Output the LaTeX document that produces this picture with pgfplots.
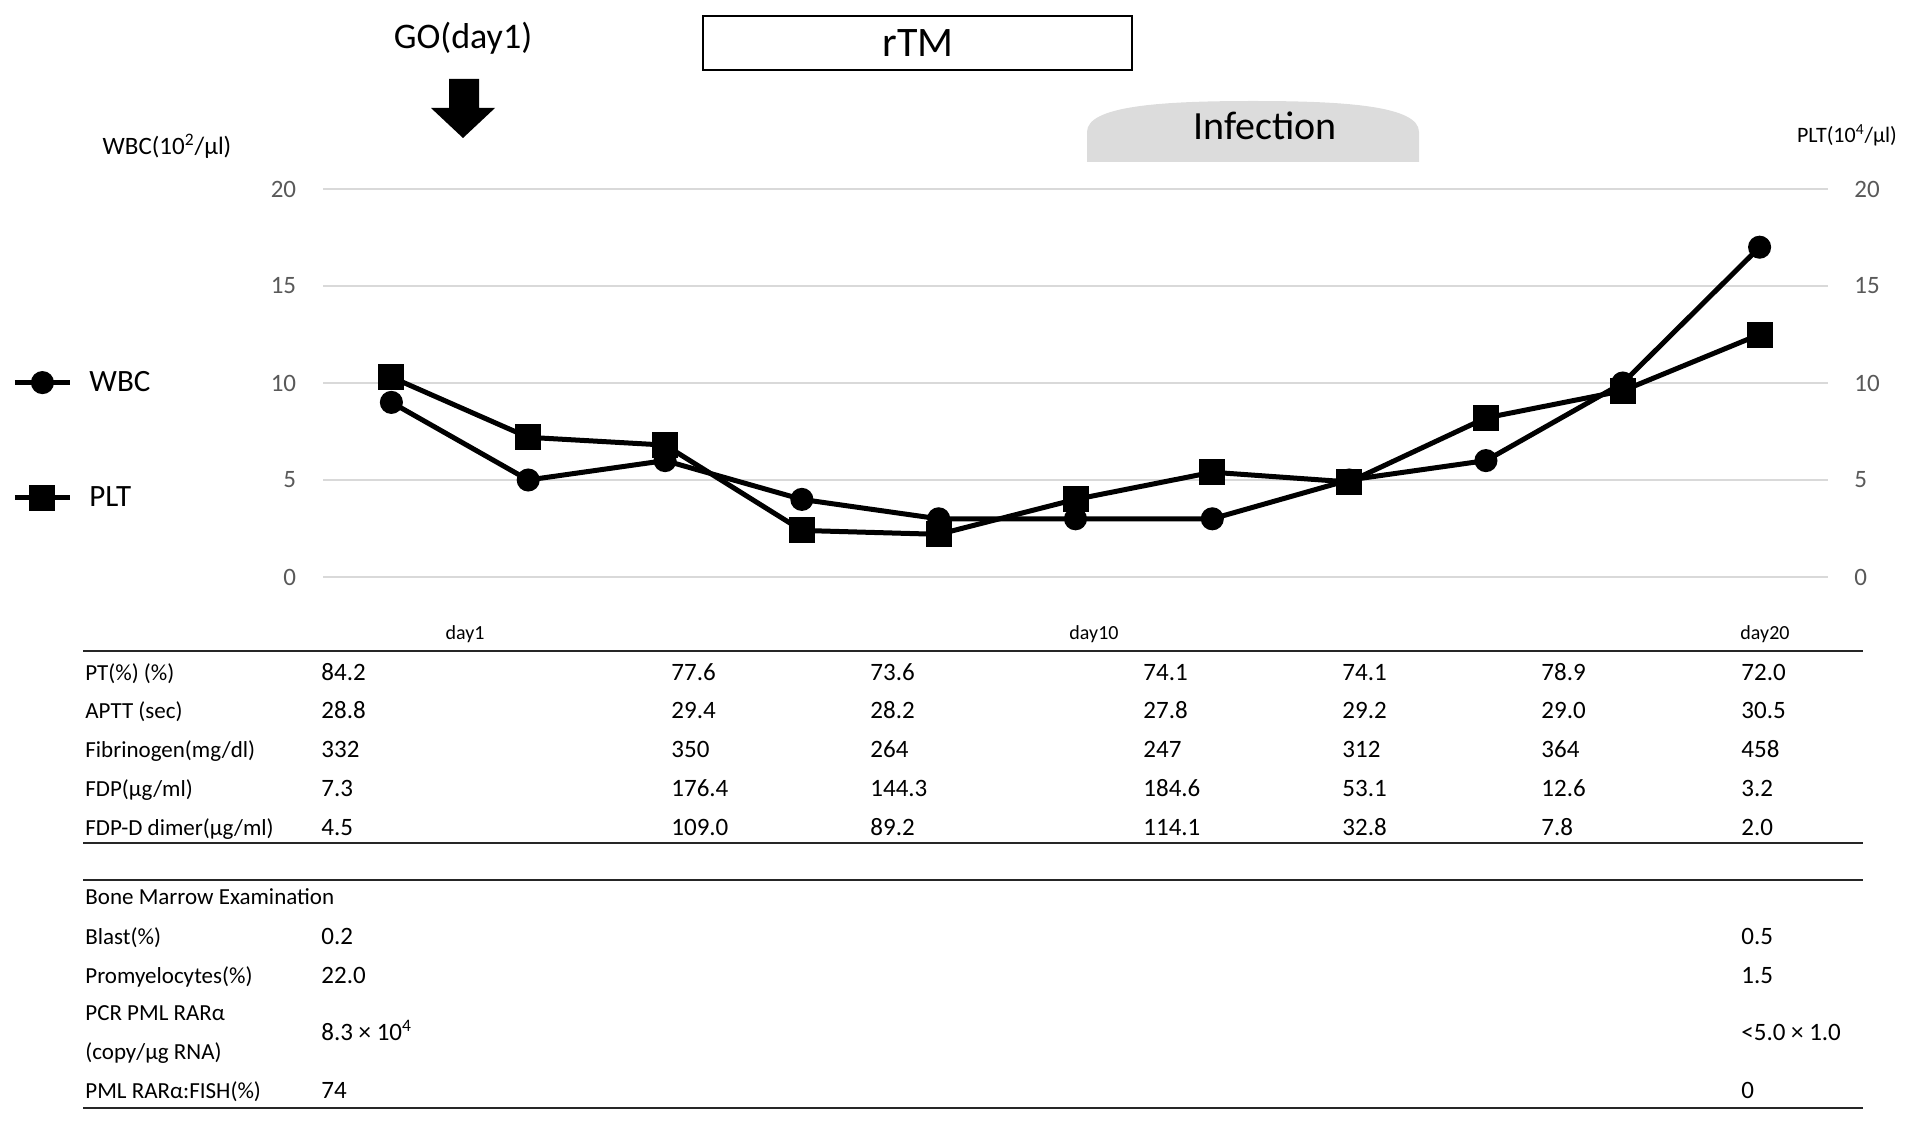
\documentclass[border=0pt]{standalone}
\usepackage{fontspec}
\setmainfont{Carlito}
\usepackage{pgfplots}
\pgfplotsset{compat=1.18}
\definecolor{tickgray}{HTML}{595959}
\definecolor{gridgray}{HTML}{D9D9D9}
\definecolor{infgray}{HTML}{DCDCDC}
\newcommand\labf{\fontsize{11.5}{14}\selectfont}
\newcommand\valf{\fontsize{12.5}{15}\selectfont}
\newcommand\lab[2]{\node[anchor=base west,inner sep=0pt,font=\labf] at (85,#1) {#2};}
\newcommand\val[3]{\node[anchor=base west,inner sep=0pt,font=\valf] at (#1,#2) {#3};}
\begin{document}
\begin{tikzpicture}[x=0.5pt,y=0.5pt]
% WBC (left axis)
\begin{axis}[
  at={(161.5pt,272pt)}, anchor=south west, scale only axis,
  width=752.5pt, height=194pt,
  xmin=-0.5, xmax=10.5, ymin=0, ymax=20,
  xtick=\empty, ytick={0,5,10,15,20},
  axis line style={draw=none}, major tick length=0pt,
  ymajorgrids, grid style={gridgray, line width=1pt},
  /pgf/number format/assume math mode=true,
  yticklabel style={font=\fontsize{12.5}{15}\selectfont, text=tickgray, inner sep=0pt, anchor=east, xshift=-13.25pt},
  clip=false,
]
\addplot[black, line width=2.5pt, mark=*, mark size=4.5pt, mark options={solid}]
  coordinates {(0,9)(1,5)(2,6)(3,4)(4,3)(5,3)(6,3)(7,5)(8,6)(9,10)(10,17)};
\end{axis}
% PLT (right axis)
\begin{axis}[
  at={(161.5pt,272pt)}, anchor=south west, scale only axis,
  width=752.5pt, height=194pt,
  xmin=-0.5, xmax=10.5, ymin=0, ymax=20,
  xtick=\empty, ytick={0,5,10,15,20},
  yticklabel pos=right,
  axis line style={draw=none}, major tick length=0pt,
  /pgf/number format/assume math mode=true,
  yticklabel style={font=\fontsize{12.5}{15}\selectfont, text=tickgray, inner sep=0pt, anchor=west, xshift=13pt},
  clip=false,
  legend cell align=left,
  legend style={at={(-0.2066,0.353)}, anchor=west, draw=none, fill=none,
    font=\fontsize{15.5}{18}\selectfont, row sep=46pt, column sep=8.5pt,
    inner sep=0pt, nodes={inner sep=0pt}},
  legend image code/.code={\draw[mark repeat=2,mark phase=2,#1] plot coordinates {(0pt,0pt) (13.75pt,0pt) (27.5pt,0pt)};},
]
\addlegendimage{black, line width=2.5pt, mark=*, mark size=4.5pt}
\addlegendentry{WBC}
\addplot[black, line width=2.5pt, mark=square*, mark size=5.25pt, mark options={solid}]
  coordinates {(0,10.3)(1,7.2)(2,6.8)(3,2.4)(4,2.2)(5,4.0)(6,5.4)(7,4.9)(8,8.2)(9,9.6)(10,12.5)};
\addlegendentry{PLT}
\end{axis}
\begin{scope}[shift={(0,1121)}, yscale=-1]
  % annotations
  \node[font=\fontsize{18}{21}\selectfont, inner sep=0pt] at (463,38) {GO(day1)};
  \fill[black] (449,79) -- (479,79) -- (479,108) -- (495,108) -- (463,138) -- (431,108) -- (449,108) -- cycle;
  \draw[line width=1.2pt] (703,16) rectangle (1132,70);
  \node[font=\fontsize{21}{24}\selectfont, inner sep=0pt] at (918,43) {rTM};
  \fill[infgray] (1087,162) -- (1087,132) .. controls (1087,106) and (1160,101) .. (1253,101)
     .. controls (1346,101) and (1419,106) .. (1419,132) -- (1419,162) -- cycle;
  \node[font=\fontsize{20}{24}\selectfont, inner sep=0pt] at (1265,126) {Infection};
  \node[font=\fontsize{12.5}{15}\selectfont, inner sep=0pt] at (167,146) {WBC(10\textsuperscript{2}/µl)};
  \node[font=\fontsize{11}{13}\selectfont, inner sep=0pt] at (1847,135) {PLT(10\textsuperscript{4}/µl)};
  % day labels
  \node[anchor=base, inner sep=0pt, font=\fontsize{10}{12}\selectfont] at (465,640) {day1};
  \node[anchor=base, inner sep=0pt, font=\fontsize{10}{12}\selectfont] at (1094,640) {day10};
  \node[anchor=base, inner sep=0pt, font=\fontsize{10}{12}\selectfont] at (1765,640) {day20};
  % rules
  \draw[line width=1pt, black!85] (83,651.5) -- (1863,651.5);
  \draw[line width=1pt, black!85] (83,843) -- (1863,843);
  \draw[line width=1pt, black!85] (83,880) -- (1863,880);
  \draw[line width=1pt, black!85] (83,1108) -- (1863,1108);
  % coagulation table
  \lab{680}{PT(\%) (\%)}
  \lab{719}{APTT (sec)}
  \lab{757}{Fibrinogen(mg/dl)}
  \lab{796}{FDP(µg/ml)}
  \lab{835}{FDP-D dimer(µg/ml)}
  \foreach \x/\v in {321/84.2, 671/77.6, 870/73.6, 1143/74.1, 1342/74.1, 1541/78.9, 1741/72.0} {\val{\x}{680}{\v}}
  \foreach \x/\v in {321/28.8, 671/29.4, 870/28.2, 1143/27.8, 1342/29.2, 1541/29.0, 1741/30.5} {\val{\x}{719}{\v}}
  \foreach \x/\v in {321/332, 671/350, 870/264, 1143/247, 1342/312, 1541/364, 1741/458} {\val{\x}{757}{\v}}
  \foreach \x/\v in {321/7.3, 671/176.4, 870/144.3, 1143/184.6, 1342/53.1, 1541/12.6, 1741/3.2} {\val{\x}{796}{\v}}
  \foreach \x/\v in {321/4.5, 671/109.0, 870/89.2, 1143/114.1, 1342/32.8, 1541/7.8, 1741/2.0} {\val{\x}{835}{\v}}
  % bone marrow
  \lab{904}{Bone Marrow Examination}
  \lab{944}{Blast(\%)}
  \lab{983}{Promyelocytes(\%)}
  \lab{1020}{PCR PML RARα}
  \lab{1059}{(copy/µg RNA)}
  \lab{1098}{PML RARα:FISH(\%)}
  \val{321}{944}{0.2}
  \val{1741}{944}{0.5}
  \val{321}{983}{22.0}
  \val{1741}{983}{1.5}
  \val{321}{1040}{8.3 × 10\textsuperscript{4}}
  \val{1741}{1040}{<5.0 × 1.0}
  \val{321}{1098}{74}
  \val{1741}{1098}{0}
\end{scope}
\pgfresetboundingbox
\useasboundingbox (0,0) rectangle (1913,1121);
\end{tikzpicture}
\end{document}
